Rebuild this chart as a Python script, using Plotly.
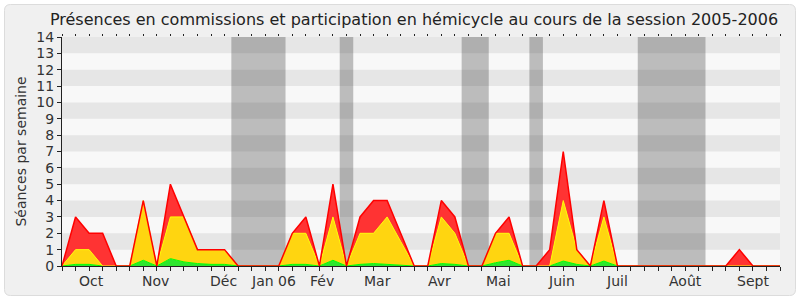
import plotly.graph_objects as go

# Week index (0 = first week of the session, 53 = last)
weeks = list(range(54))

# Stacked totals (séances per week)
red_total = [0, 3, 2, 2, 0, 0, 4, 0, 5, 3, 1, 1, 1, 0, 0, 0, 0, 2, 3, 0,
             5, 0, 3, 4, 4, 2, 0, 0, 4, 3, 0, 0, 2, 3, 0, 0, 1, 7, 1, 0,
             4, 0, 0, 0, 0, 0, 0, 0, 0, 0, 1, 0, 0, 0]
yellow_total = [0, 1, 1, 0, 0, 0, 4, 0, 3, 3, 1, 1, 1, 0, 0, 0, 0, 2, 2, 0,
                3, 0, 2, 2, 3, 1.5, 0, 0, 3, 2, 0, 0, 2, 2, 0, 0, 0, 4, 1, 0,
                3, 0, 0, 0, 0, 0, 0, 0, 0, 0, 0, 0, 0, 0]
green = [0, 0.1, 0.1, 0, 0, 0, 0.35, 0, 0.45, 0.25, 0.15, 0.1, 0.1, 0, 0, 0, 0, 0.1, 0.1, 0,
         0.35, 0, 0.1, 0.15, 0.1, 0.05, 0, 0, 0.15, 0.1, 0, 0, 0.2, 0.35, 0, 0, 0, 0.3, 0.1, 0,
         0.3, 0, 0, 0, 0, 0, 0, 0, 0, 0, 0, 0, 0, 0]

# Vacation periods (in week units)
vacations = [(12.5, 16.5), (20.5, 21.5), (29.5, 31.5), (34.5, 35.5), (42.5, 47.5)]

# Month labels and their positions (week units)
month_labels = ["Oct", "Nov", "Déc", "Jan 06", "Fév", "Mar", "Avr", "Mai", "Juin", "Juil", "Août", "Sept"]
month_pos = [2.2, 6.9, 11.9, 15.6, 19.2, 23.3, 27.9, 32.2, 36.9, 41.0, 46.0, 51.0]

yellow_part = [y - g for y, g in zip(yellow_total, green)]
red_part = [r - y for r, y in zip(red_total, yellow_total)]

W, H = 800, 300
L, R, T, B = 62, 20, 37, 34

fig = go.Figure()
fig.add_trace(go.Scatter(x=weeks, y=green, stackgroup="s", mode="lines",
                         line=dict(color="#00ff00", width=1), fillcolor="#2ee62e",
                         hoverinfo="skip", showlegend=False))
fig.add_trace(go.Scatter(x=weeks, y=yellow_part, stackgroup="s", mode="lines",
                         line=dict(color="#ffff00", width=1), fillcolor="#ffd510",
                         hoverinfo="skip", showlegend=False))
fig.add_trace(go.Scatter(x=weeks, y=red_part, stackgroup="s", mode="lines",
                         line=dict(color="#ff0000", width=1.5), fillcolor="#ff3333",
                         hoverinfo="skip", showlegend=False))

# rounded outer frame in paper coordinates
pw, ph = W - L - R, H - T - B
def px(x):
    return (x - L) / pw
def py(y):
    return (H - B - y) / ph
x0, x1, y0, y1, r = 4.5, 795.5, 4.5, 295.5, 6
path = (f"M {px(x0 + r)},{py(y0)} L {px(x1 - r)},{py(y0)} "
        f"Q {px(x1)},{py(y0)} {px(x1)},{py(y0 + r)} L {px(x1)},{py(y1 - r)} "
        f"Q {px(x1)},{py(y1)} {px(x1 - r)},{py(y1)} L {px(x0 + r)},{py(y1)} "
        f"Q {px(x0)},{py(y1)} {px(x0)},{py(y1 - r)} L {px(x0)},{py(y0 + r)} "
        f"Q {px(x0)},{py(y0)} {px(x0 + r)},{py(y0)} Z")
shapes = [dict(type="path", xref="paper", yref="paper", path=path,
               fillcolor="#f0f0f0", line=dict(color="#dcdcdc", width=1), layer="below"),
          dict(type="rect", xref="paper", yref="paper", x0=0, x1=1, y0=0, y1=1,
               fillcolor="#f8f8f8", line=dict(width=0), layer="below")]
# horizontal stripes
for k in range(7):
    shapes.append(dict(type="rect", xref="paper", yref="y", x0=0, x1=1,
                       y0=2 * k + 1, y1=2 * k + 2, fillcolor="#e6e6e6",
                       line=dict(width=0), layer="below"))
for a, b in vacations:
    shapes.append(dict(type="rect", xref="x", yref="paper", x0=a, x1=b, y0=0, y1=1,
                       fillcolor="rgba(0,0,0,0.24)", line=dict(width=0), layer="below"))

annotations = [dict(x=p, y=0, xref="x", yref="paper", text=t, showarrow=False,
                    yanchor="top", yshift=-5, font=dict(size=14, color="#333333"))
               for t, p in zip(month_labels, month_pos)]

fig.update_layout(
    width=W, height=H,
    margin=dict(l=L, r=R, t=T, b=B),
    paper_bgcolor="#ffffff", plot_bgcolor="rgba(0,0,0,0)",
    font=dict(family="DejaVu Sans", color="#333333"),
    title=dict(text="Présences en commissions et participation en hémicycle au cours de la session 2005-2006",
               x=0.5175, xref="container", xanchor="center", y=0.955, yref="container",
               font=dict(size=16, color="#222222")),
    xaxis=dict(range=[0, 53], tickvals=weeks, ticks="outside", ticklen=4,
               tickcolor="#222222", showticklabels=False, showgrid=False,
               showline=True, linecolor="#222222", linewidth=1, zeroline=False),
    xaxis2=dict(overlaying="x", matches="x", side="top", tickvals=weeks, ticks="outside",
                ticklen=2, tickcolor="#222222", showticklabels=False, showgrid=False,
                showline=False, zeroline=False),
    yaxis=dict(range=[0, 14], dtick=1, tick0=0, ticks="outside", ticklen=4,
               tickcolor="#222222", showgrid=False, showline=True, linecolor="#222222",
               zeroline=False, tickfont=dict(size=14, color="#333333"),
               title=dict(text="Séances par semaine", font=dict(size=14, color="#333333"), standoff=6)),
    shapes=shapes,
    annotations=annotations,
)
fig.add_trace(go.Scatter(x=[0], y=[0], xaxis="x2", mode="markers", marker=dict(opacity=0),
                         hoverinfo="skip", showlegend=False))

fig.write_html("out.html")
